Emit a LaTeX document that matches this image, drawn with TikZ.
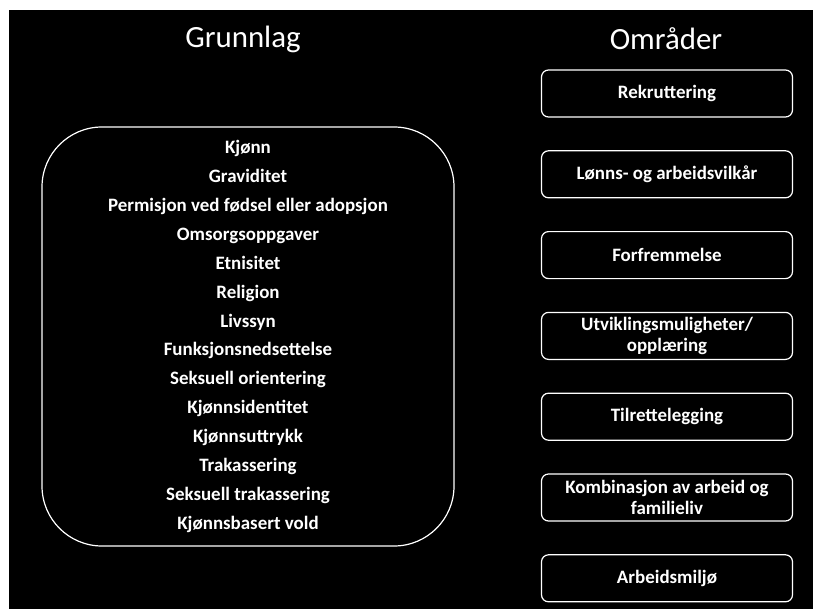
\documentclass[tikz,border=0pt]{standalone}
\usepackage{fontspec}
\setmainfont{Carlito}
\usetikzlibrary{positioning}

\begin{document}
\begin{tikzpicture}[x=1bp,y=-1bp,node distance=80.8bp,on grid,
  tittel/.style={text=white,font=\fontsize{31}{36}\selectfont},
  omr/.style={draw=white,line width=1.2bp,rounded corners=7bp,
    minimum width=251bp,minimum height=47bp,text=white,align=center,
    inner sep=1bp,font=\bfseries\fontsize{19}{21}\selectfont}]
   \useasboundingbox (0,0) rectangle (813,609);
   \fill[white] (0,0) rectangle (813,609);
   \fill[black] (9,10) rectangle (813,609);

   \node[tittel] (grunnlag) at (243,39) {Grunnlag};
   \node[tittel] (omraader) at (666,39) {Områder};

   % grunnlag i stor boks
   \node[draw=white,line width=1.2bp,rounded corners=60bp,
     minimum width=412bp,minimum height=419bp,text=white,align=center,
     font=\bfseries\fontsize{19}{29}\selectfont] (liste) at (248,336.5)
     {Kjønn\\Graviditet\\Permisjon ved fødsel eller adopsjon\\Omsorgsoppgaver\\
      Etnisitet\\Religion\\Livssyn\\Funksjonsnedsettelse\\Seksuell orientering\\
      Kjønnsidentitet\\Kjønnsuttrykk\\Trakassering\\Seksuell trakassering\\
      Kjønnsbasert vold};

   % områder
   \node[omr] (rekr) at (667,93.5) {Rekruttering};
   \node[omr] (lonn) [below=of rekr] {Lønns- og arbeidsvilkår};
   \node[omr] (forf) [below=of lonn] {Forfremmelse};
   \node[omr] (utv) [below=of forf] {Utviklingsmuligheter/\\opplæring};
   \node[omr] (tilr) [below=of utv] {Tilrettelegging};
   \node[omr] (komb) [below=of tilr] {Kombinasjon av arbeid og\\familieliv};
   \node[omr] (miljo) [below=of komb] {Arbeidsmiljø};
\end{tikzpicture}
\end{document}
